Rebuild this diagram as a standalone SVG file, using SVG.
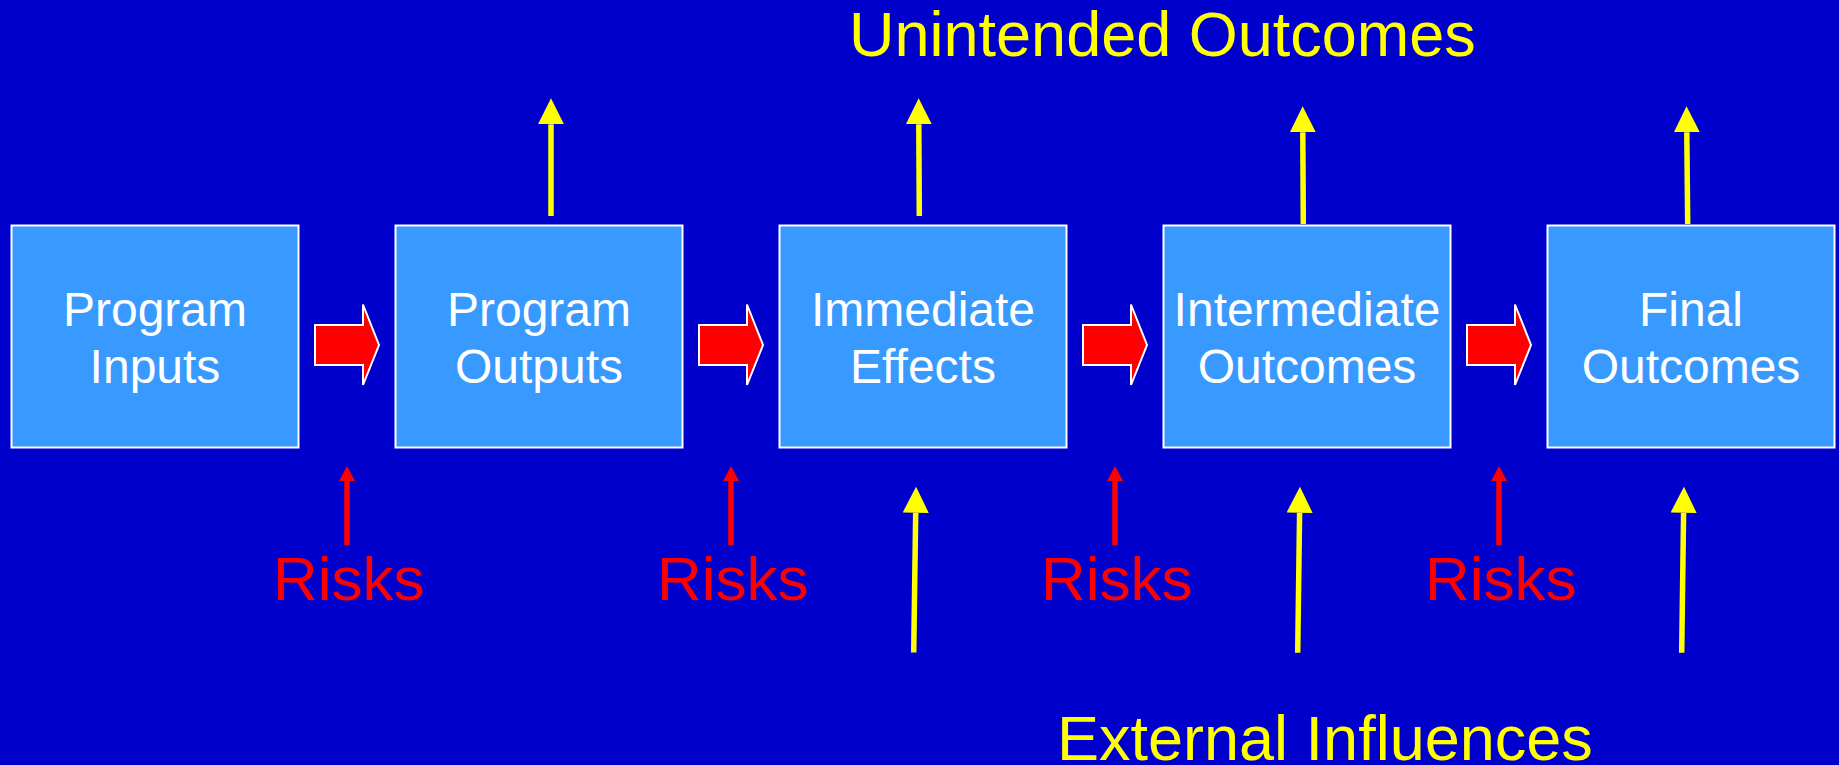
<svg xmlns="http://www.w3.org/2000/svg" width="1839" height="765" viewBox="0 0 1839 765">
<style>
.box{fill:#3899FF;stroke:#FFFFFF;stroke-width:2}
.bt{font-family:"Liberation Sans",Arial,sans-serif;font-size:48px;fill:#FFFFFF;text-anchor:middle}
.blk{fill:#FF0000;stroke:#FFFFFF;stroke-width:2}
.yl{stroke:#FFFF00;stroke-width:5.5;fill:none}
.rl{stroke:#FF0000;stroke-width:5.5;fill:none}
.risk{font-family:"Liberation Sans",Arial,sans-serif;font-size:62px;fill:#FF0000}
.big{font-family:"Liberation Sans",Arial,sans-serif;font-size:63px;fill:#FFFF00}
</style>
<defs>
<marker id="ya" viewBox="0 0 26 26" refX="0" refY="13" markerWidth="26" markerHeight="26" markerUnits="userSpaceOnUse" orient="auto"><path d="M0,0 L26,13 L0,26 z" fill="#FFFF00"/></marker>
<marker id="ra" viewBox="0 0 15 16" refX="0" refY="8" markerWidth="15" markerHeight="16" markerUnits="userSpaceOnUse" orient="auto"><path d="M0,0 L15,8 L0,16 z" fill="#FF0000"/></marker>
</defs>
<rect x="0" y="0" width="1839" height="765" fill="#0000CC"/>

<g id="node-inputs"><rect class="box" x="11.5" y="225.5" width="287" height="222"/><text class="bt" x="155" y="326">Program</text><text class="bt" x="155" y="383">Inputs</text></g>
<g id="node-outputs"><rect class="box" x="395.5" y="225.5" width="287" height="222"/><text class="bt" x="539" y="326">Program</text><text class="bt" x="539" y="383">Outputs</text></g>
<g id="node-immediate"><rect class="box" x="779.5" y="225.5" width="287" height="222"/><text class="bt" x="923" y="326">Immediate</text><text class="bt" x="923" y="383">Effects</text></g>
<g id="node-intermediate"><rect class="box" x="1163.5" y="225.5" width="287" height="222"/><text class="bt" x="1307" y="326">Intermediate</text><text class="bt" x="1307" y="383">Outcomes</text></g>
<g id="node-final"><rect class="box" x="1547.5" y="225.5" width="287" height="222"/><text class="bt" x="1691" y="326">Final</text><text class="bt" x="1691" y="383">Outcomes</text></g>

<g id="connectors">
<polygon class="blk" points="315,325 363,325 363,304.5 379,345 363,385 363,365 315,365"/>
<polygon class="blk" points="699,325 747,325 747,304.5 763,345 747,385 747,365 699,365"/>
<polygon class="blk" points="1083,325 1131,325 1131,304.5 1147,345 1131,385 1131,365 1083,365"/>
<polygon class="blk" points="1467,325 1515,325 1515,304.5 1531,345 1515,385 1515,365 1467,365"/>

<line class="yl" x1="551" y1="216" x2="551" y2="124.3" marker-end="url(#ya)"/>
<line class="yl" x1="919.3" y1="216" x2="918.8" y2="124.3" marker-end="url(#ya)"/>
<line class="yl" x1="1303.3" y1="224" x2="1302.8" y2="132.3" marker-end="url(#ya)"/>
<line class="yl" x1="1687.7" y1="224" x2="1686.8" y2="132.3" marker-end="url(#ya)"/>

<line class="yl" x1="913.7" y1="652.5" x2="915.7" y2="512.7" marker-end="url(#ya)"/>
<line class="yl" x1="1297.7" y1="652.7" x2="1299.6" y2="512.7" marker-end="url(#ya)"/>
<line class="yl" x1="1681.7" y1="652.7" x2="1683.6" y2="512.7" marker-end="url(#ya)"/>

<line class="rl" x1="347" y1="545" x2="347" y2="481" marker-end="url(#ra)"/>
<line class="rl" x1="731" y1="545" x2="731" y2="481" marker-end="url(#ra)"/>
<line class="rl" x1="1115" y1="545" x2="1115" y2="481" marker-end="url(#ra)"/>
<line class="rl" x1="1499" y1="545" x2="1499" y2="481" marker-end="url(#ra)"/>
</g>

<text class="risk" x="273" y="600">Risks</text>
<text class="risk" x="657" y="600">Risks</text>
<text class="risk" x="1041" y="600">Risks</text>
<text class="risk" x="1425" y="600">Risks</text>

<text class="big" x="849" y="56">Unintended Outcomes</text>
<text class="big" x="1057" y="760">External Influences</text>
</svg>
